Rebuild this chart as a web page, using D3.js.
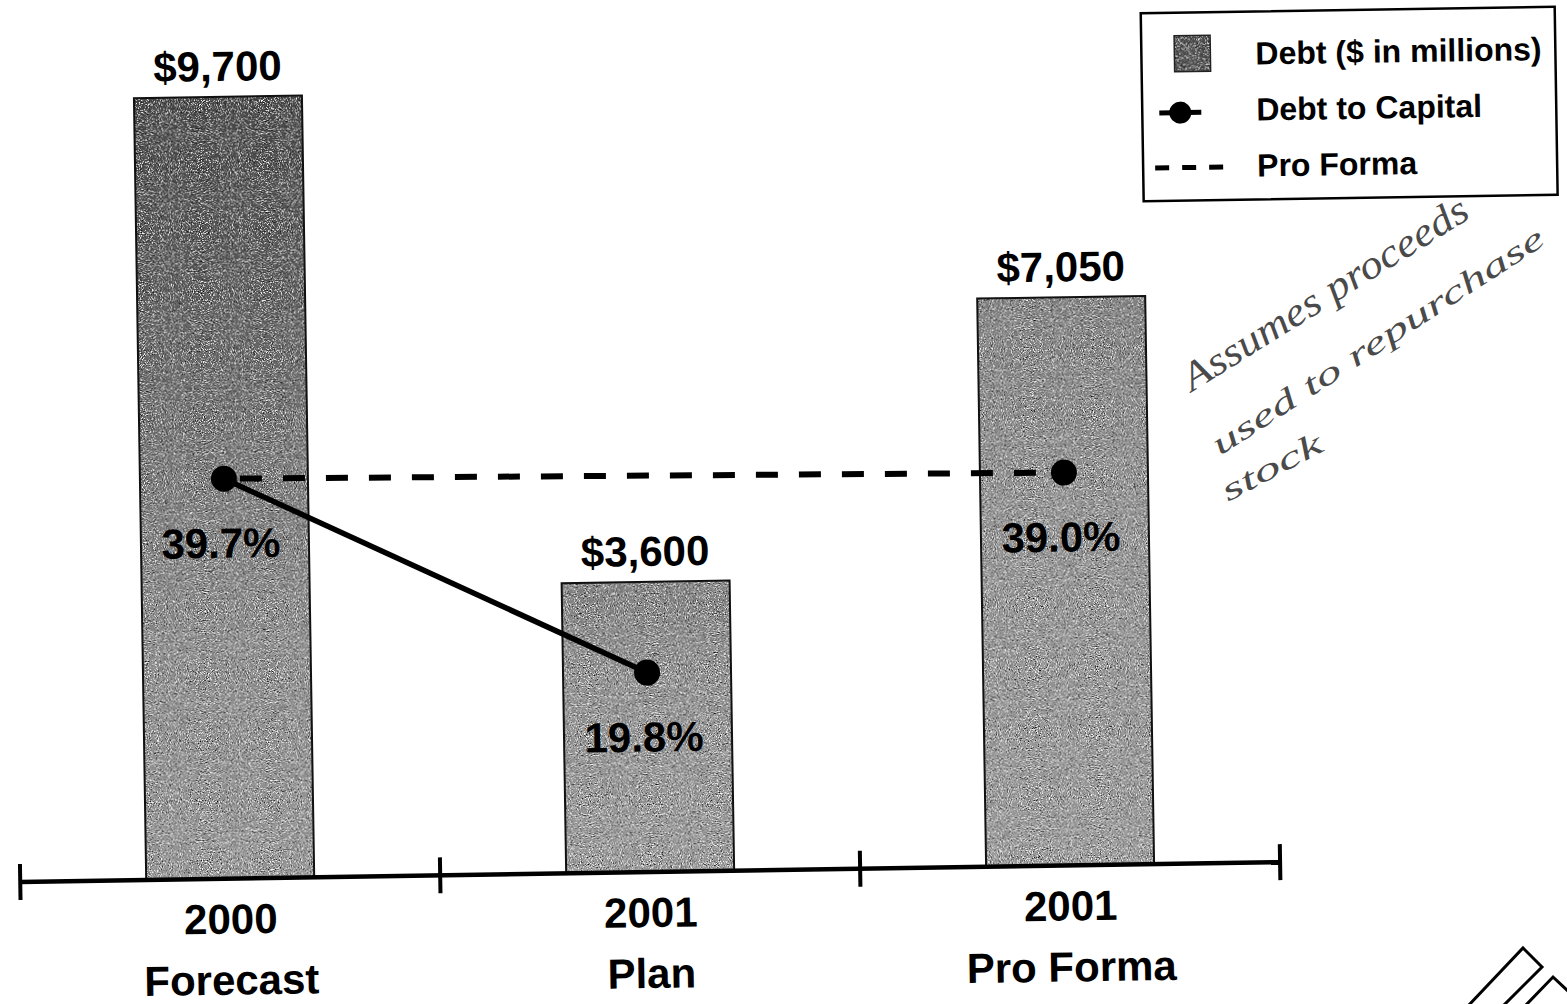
<!DOCTYPE html>
<html>
<head>
<meta charset="utf-8">
<script src="https://cdn.jsdelivr.net/npm/d3@7"></script>
<style>
  body { margin: 0; background: #fff; }
  svg { display: block; }
  text { font-family: "Liberation Sans", Arial, sans-serif; font-weight: bold; fill: #000; }
  .hand { font-family: "Liberation Serif", serif; font-style: italic; font-weight: normal; fill: #4a4a4a; }
</style>
</head>
<body>
<script>
// Chart values
const categories = ["2000 Forecast", "2001 Plan", "2001 Pro Forma"];
const yearLabels = ["2000", "2001", "2001"];
const subLabels = ["Forecast", "Plan", "Pro Forma"];
const debt = [9700, 3600, 7050];
const debtLabels = ["$9,700", "$3,600", "$7,050"];
// debt to capital, drawn for the first two categories
const debtToCapital = [39.7, 19.8];
// pro forma, first and third categories
const proForma = [39.7, 39.0];
const pctLabels = ["39.7%", "19.8%", "39.0%"];
const legendItems = ["Debt ($ in millions)", "Debt to Capital", "Pro Forma"];
const note = ["Assumes proceeds", "used to repurchase", "stock"];

const width = 1567, height = 1004;

const svg = d3.select("body").append("svg")
    .attr("width", width)
    .attr("height", height);

const defs = svg.append("defs");

// grainy scan texture for the bars
const grain = defs.append("filter").attr("id", "grain")
    .attr("x", 0).attr("y", 0).attr("width", 1).attr("height", 1)
    .attr("color-interpolation-filters", "sRGB");
grain.append("feTurbulence").attr("type", "fractalNoise")
    .attr("baseFrequency", 0.9).attr("numOctaves", 2).attr("seed", 7).attr("result", "noise");
grain.append("feColorMatrix").attr("in", "noise").attr("type", "matrix")
    .attr("values", "0 0 0 0 1  0 0 0 0 1  0 0 0 0 1  5 0 0 0 -2.6").attr("result", "light");
grain.append("feComposite").attr("in", "light").attr("in2", "SourceGraphic")
    .attr("operator", "in").attr("result", "lightIn");
grain.append("feColorMatrix").attr("in", "noise").attr("type", "matrix")
    .attr("values", "0 0 0 0 0  0 0 0 0 0  0 0 0 0 0  -5 0 0 0 2.0").attr("result", "dark");
grain.append("feComposite").attr("in", "dark").attr("in2", "SourceGraphic")
    .attr("operator", "in").attr("result", "darkIn");
const merge = grain.append("feMerge");
merge.append("feMergeNode").attr("in", "SourceGraphic");
merge.append("feMergeNode").attr("in", "lightIn");
merge.append("feMergeNode").attr("in", "darkIn");

function gradient(id, stops) {
    const g = defs.append("linearGradient").attr("id", id)
        .attr("x1", 0).attr("y1", 0).attr("x2", 0).attr("y2", 1);
    stops.forEach(s => g.append("stop").attr("offset", s[0]).attr("stop-color", s[1]));
}
gradient("barDark", [[0, "#454545"], [0.2, "#545454"], [0.45, "#707070"], [0.7, "#878787"], [1, "#929292"]]);
gradient("barLight", [[0, "#7c7c7c"], [0.35, "#8c8c8c"], [1, "#959595"]]);

// the scanned page is tilted a little
const chart = svg.append("g").attr("transform", "rotate(-0.9 650 480)");

const x = d3.scaleBand().domain(categories).range([14, 1274]);
const yDebt = d3.scaleLinear().domain([0, 10000]).range([872, 66]);
const yPct = d3.scaleLinear().domain([0, 80]).range([872, 66]);
const barW = x.bandwidth() * 0.4;
const cx = c => x(c) + x.bandwidth() / 2;

// bars
chart.selectAll("rect.bar")
    .data(debt)
    .join("rect")
    .attr("class", "bar")
    .attr("x", (d, i) => cx(categories[i]) - barW / 2)
    .attr("y", d => yDebt(d))
    .attr("width", barW)
    .attr("height", d => yDebt(0) - yDebt(d))
    .attr("fill", (d, i) => i === 0 ? "url(#barDark)" : "url(#barLight)")
    .attr("filter", "url(#grain)");

chart.selectAll("rect.outline")
    .data(debt)
    .join("rect")
    .attr("class", "outline")
    .attr("x", (d, i) => cx(categories[i]) - barW / 2)
    .attr("y", d => yDebt(d))
    .attr("width", barW)
    .attr("height", d => yDebt(0) - yDebt(d))
    .attr("fill", "none")
    .attr("stroke", "#111")
    .attr("stroke-width", 2);

// value labels
chart.selectAll("text.val")
    .data(debt)
    .join("text")
    .attr("class", "val")
    .attr("x", (d, i) => cx(categories[i]))
    .attr("y", d => yDebt(d) - 16)
    .attr("text-anchor", "middle")
    .attr("font-size", 42)
    .text((d, i) => debtLabels[i]);

// axis line with ticks at the band edges
const edges = categories.map(c => x(c)).concat([x.range()[1]]);
chart.append("line")
    .attr("x1", edges[0]).attr("x2", edges[edges.length - 1])
    .attr("y1", yDebt(0)).attr("y2", yDebt(0))
    .attr("stroke", "#000").attr("stroke-width", 4.5);
chart.selectAll("line.tick")
    .data(edges)
    .join("line")
    .attr("class", "tick")
    .attr("x1", d => d).attr("x2", d => d)
    .attr("y1", yDebt(0) - 18).attr("y2", yDebt(0) + 18)
    .attr("stroke", "#000").attr("stroke-width", 4);

// category labels
chart.selectAll("text.year")
    .data(yearLabels)
    .join("text")
    .attr("class", "year")
    .attr("x", (d, i) => cx(categories[i]))
    .attr("y", yDebt(0) + 55)
    .attr("text-anchor", "middle")
    .attr("font-size", 42)
    .text(d => d);
chart.selectAll("text.sub")
    .data(subLabels)
    .join("text")
    .attr("class", "sub")
    .attr("x", (d, i) => cx(categories[i]))
    .attr("y", yDebt(0) + 116)
    .attr("text-anchor", "middle")
    .attr("font-size", 42)
    .text(d => d);

// pro forma dashed line (first to third category)
const pfIdx = [0, 2];
const dtcIdx = [0, 1];
chart.append("path")
    .datum(proForma)
    .attr("d", d3.line().x((d, i) => cx(categories[pfIdx[i]])).y(d => yPct(d)))
    .attr("fill", "none")
    .attr("stroke", "#000")
    .attr("stroke-width", 6)
    .attr("stroke-dasharray", "22 21")
    .attr("stroke-dashoffset", -16);

chart.append("path")
    .datum(debtToCapital)
    .attr("d", d3.line().x((d, i) => cx(categories[dtcIdx[i]])).y(d => yPct(d)))
    .attr("fill", "none")
    .attr("stroke", "#000")
    .attr("stroke-width", 5.5);

const pts = [
    { i: 0, v: debtToCapital[0] },
    { i: 1, v: debtToCapital[1] },
    { i: 2, v: proForma[1] }
];
chart.selectAll("circle.pt")
    .data(pts)
    .join("circle")
    .attr("class", "pt")
    .attr("cx", d => cx(categories[d.i]))
    .attr("cy", d => yPct(d.v))
    .attr("r", 13)
    .attr("fill", "#000");

chart.selectAll("text.pct")
    .data(pts)
    .join("text")
    .attr("class", "pct")
    .attr("x", d => cx(categories[d.i]) - 4)
    .attr("y", d => yPct(d.v) + 79)
    .attr("text-anchor", "middle")
    .attr("font-size", 42)
    .text(d => pctLabels[d.i]);

// legend
const legend = chart.append("g");
legend.append("rect")
    .attr("x", 1148).attr("y", 21).attr("width", 414).attr("height", 188)
    .attr("fill", "#fff").attr("stroke", "#000").attr("stroke-width", 2.5);
legend.append("rect")
    .attr("x", 1181).attr("y", 44).attr("width", 36).attr("height", 36)
    .attr("fill", "#4a4a4a").attr("filter", "url(#grain)");
legend.append("rect")
    .attr("x", 1181).attr("y", 44).attr("width", 36).attr("height", 36)
    .attr("fill", "none").attr("stroke", "#222").attr("stroke-width", 1.5);
legend.append("line")
    .attr("x1", 1165).attr("x2", 1207).attr("y1", 121).attr("y2", 121)
    .attr("stroke", "#000").attr("stroke-width", 5);
legend.append("circle")
    .attr("cx", 1186).attr("cy", 121).attr("r", 11).attr("fill", "#000");
legend.append("line")
    .attr("x1", 1160).attr("x2", 1228).attr("y1", 176).attr("y2", 176)
    .attr("stroke", "#000").attr("stroke-width", 5)
    .attr("stroke-dasharray", "14 13");
legend.selectAll("text")
    .data(legendItems)
    .join("text")
    .attr("x", 1262)
    .attr("y", (d, i) => 74 + i * 56)
    .attr("font-size", 32)
    .text(d => d);

// handwritten note
const notePos = [
    { x: 1192, y: 392, a: -32, s: 40, len: 330 },
    { x: 1220, y: 456, a: -33, s: 32, len: 390 },
    { x: 1228, y: 502, a: -28, s: 32, len: 110 }
];
svg.selectAll("text.hand")
    .data(note)
    .join("text")
    .attr("class", "hand")
    .attr("transform", (d, i) => `translate(${notePos[i].x},${notePos[i].y}) rotate(${notePos[i].a})`)
    .attr("font-size", (d, i) => notePos[i].s)
    .attr("textLength", (d, i) => notePos[i].len)
    .attr("lengthAdjust", "spacingAndGlyphs")
    .text(d => d);

// corner logo fragment
const logo = svg.append("g").attr("fill", "none").attr("stroke", "#000").attr("stroke-width", 3);
logo.append("path").attr("d", "M1468,1006 L1523,948 L1542,967 L1503,1006");
logo.append("path").attr("d", "M1525,1006 L1553,977 L1569,992");
</script>
</body>
</html>
